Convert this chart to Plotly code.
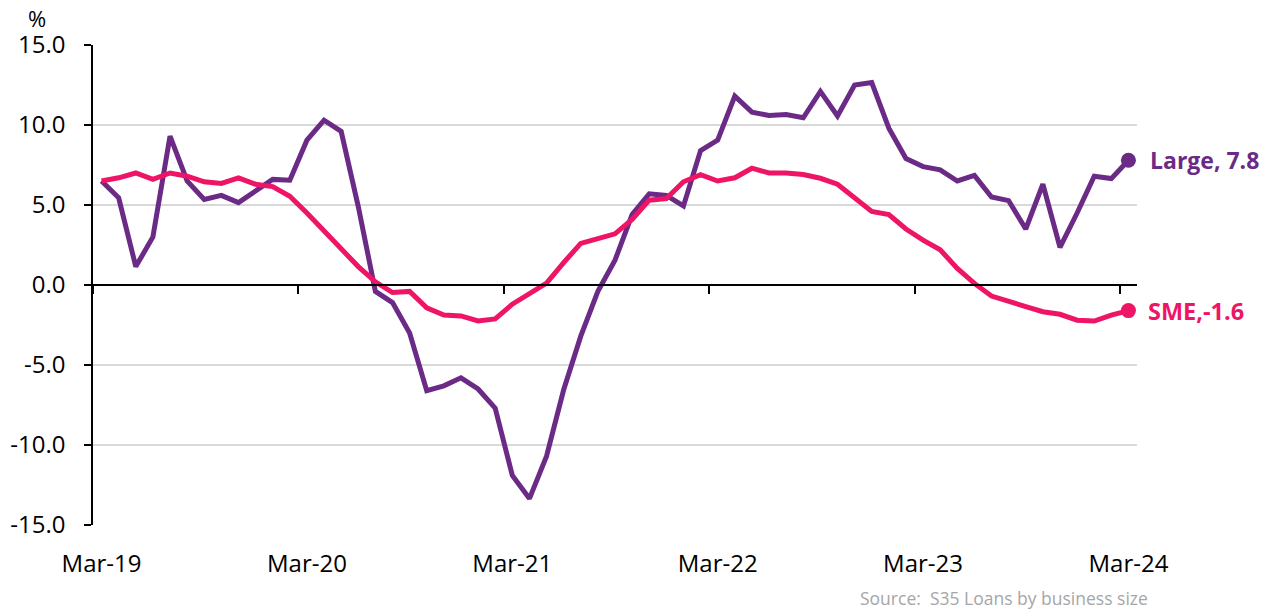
import plotly.graph_objects as go

months = ["Mar-19","Apr-19","May-19","Jun-19","Jul-19","Aug-19","Sep-19","Oct-19","Nov-19","Dec-19","Jan-20","Feb-20",
          "Mar-20","Apr-20","May-20","Jun-20","Jul-20","Aug-20","Sep-20","Oct-20","Nov-20","Dec-20","Jan-21","Feb-21",
          "Mar-21","Apr-21","May-21","Jun-21","Jul-21","Aug-21","Sep-21","Oct-21","Nov-21","Dec-21","Jan-22","Feb-22",
          "Mar-22","Apr-22","May-22","Jun-22","Jul-22","Aug-22","Sep-22","Oct-22","Nov-22","Dec-22","Jan-23","Feb-23",
          "Mar-23","Apr-23","May-23","Jun-23","Jul-23","Aug-23","Sep-23","Oct-23","Nov-23","Dec-23","Jan-24","Feb-24",
          "Mar-24"]

large = [6.5, 5.45, 1.15, 3.0, 9.3, 6.5, 5.35, 5.6, 5.15, 5.85, 6.6, 6.55,
         9.05, 10.3, 9.6, 4.9, -0.4, -1.1, -3.0, -6.6, -6.3, -5.8, -6.5, -7.7,
         -11.9, -13.35, -10.7, -6.55, -3.2, -0.4, 1.55, 4.4, 5.7, 5.6, 4.94, 8.4,
         9.06, 11.8, 10.8, 10.6, 10.65, 10.45, 12.1, 10.56, 12.5, 12.65, 9.8, 7.9,
         7.4, 7.2, 6.5, 6.85, 5.5, 5.27, 3.5, 6.3, 2.35, 4.5, 6.8, 6.65, 7.8]

sme = [6.5, 6.7, 7.0, 6.6, 7.0, 6.8, 6.45, 6.35, 6.7, 6.3, 6.15, 5.55,
       4.5, 3.35, 2.3, 1.15, 0.2, -0.47, -0.4, -1.43, -1.88, -1.93, -2.25, -2.12,
       -1.2, -0.55, 0.12, 1.4, 2.6, 2.9, 3.2, 4.1, 5.3, 5.4, 6.45, 6.9,
       6.5, 6.7, 7.3, 7.0, 7.0, 6.9, 6.67, 6.3, 5.4, 4.6, 4.4, 3.5,
       2.8, 2.2, 1.04, 0.1, -0.69, -0.98, -1.35, -1.67, -1.83, -2.2, -2.25, -1.88, -1.6]

label_months = ["Mar-19", "Mar-20", "Mar-21", "Mar-22", "Mar-23", "Mar-24"]
y_ticks = [-15, -10, -5, 0, 5, 10, 15]

PURPLE = "#6A2A86"
PINK = "#EE1566"
FONT = "Open Sans"

x = list(range(len(months)))
label_pos = [months.index(m) for m in label_months]
tick_pos = [p - 0.5 for p in label_pos]

fig = go.Figure()
fig.add_trace(go.Scatter(x=x, y=large, mode="lines", line=dict(color=PURPLE, width=5),
                         name="Large", showlegend=False))
fig.add_trace(go.Scatter(x=x, y=sme, mode="lines", line=dict(color=PINK, width=5),
                         name="SME", showlegend=False))
fig.add_trace(go.Scatter(x=[x[-1]], y=[large[-1]], mode="markers",
                         marker=dict(color=PURPLE, size=15), showlegend=False))
fig.add_trace(go.Scatter(x=[x[-1]], y=[sme[-1]], mode="markers",
                         marker=dict(color=PINK, size=15), showlegend=False))

xr = [-0.5, len(months) - 0.5]

# page body has an 8px default margin, so the figure is 8px smaller than the window
fig.update_layout(
    width=1268, height=602,
    margin=dict(l=85, r=139, t=37, b=85),
    paper_bgcolor="white", plot_bgcolor="white",
    font=dict(family=FONT, color="#000000"),
    xaxis=dict(range=xr, tickmode="array", tickvals=label_pos, ticktext=label_months,
               ticks="", showgrid=False, zeroline=False, showline=False, automargin=False,
               tickfont=dict(size=24, family=FONT, color="#000000"),
               ticklabelstandoff=22),
    xaxis2=dict(range=xr, overlaying="x", anchor="free", position=0.5, side="bottom",
                tickmode="array", tickvals=tick_pos, ticks="outside", ticklen=8,
                tickwidth=1.5, tickcolor="#000000", showticklabels=False,
                showline=True, linecolor="#000000", linewidth=1.5, automargin=False,
                showgrid=False, zeroline=False),
    yaxis=dict(range=[-15, 15], tickmode="array", tickvals=y_ticks,
               ticktext=[f"{v:.1f}" for v in y_ticks],
               ticks="outside", ticklen=7, tickwidth=1.5, tickcolor="#000000",
               showline=True, linecolor="#000000", linewidth=1.5,
               showgrid=True, gridcolor="#D9D9D9", gridwidth=1.5,
               zeroline=False, automargin=False,
               tickfont=dict(size=24, family=FONT, color="#000000"),
               ticklabelstandoff=14),
)

fig.add_trace(go.Scatter(x=[x[0]], y=[None], xaxis="x2", mode="lines", showlegend=False,
                         hoverinfo="skip"))

fig.add_annotation(x=x[-1], y=large[-1], xref="x", yref="y", text=f"<b>Large, {large[-1]}</b>",
                   showarrow=False, xanchor="left", yanchor="middle", xshift=20,
                   font=dict(size=23, color=PURPLE, family=FONT))
fig.add_annotation(x=x[-1], y=sme[-1], xref="x", yref="y", text=f"<b>SME,{sme[-1]}</b>",
                   showarrow=False, xanchor="left", yanchor="middle", xshift=18,
                   font=dict(size=23.5, color=PINK, family=FONT))

fig.add_annotation(x=-0.054, y=1.056, xref="paper", yref="paper", text="%",
                   showarrow=False, xanchor="center", yanchor="middle",
                   font=dict(size=22, color="#000000", family=FONT))
fig.add_annotation(x=1.0124, y=-0.152, xref="paper", yref="paper",
                   text="Source:\u00a0 S35 Loans by business size",
                   showarrow=False, xanchor="right", yanchor="middle",
                   font=dict(size=17.5, color="#A6A6A6", family=FONT))

fig.write_html("out.html")
